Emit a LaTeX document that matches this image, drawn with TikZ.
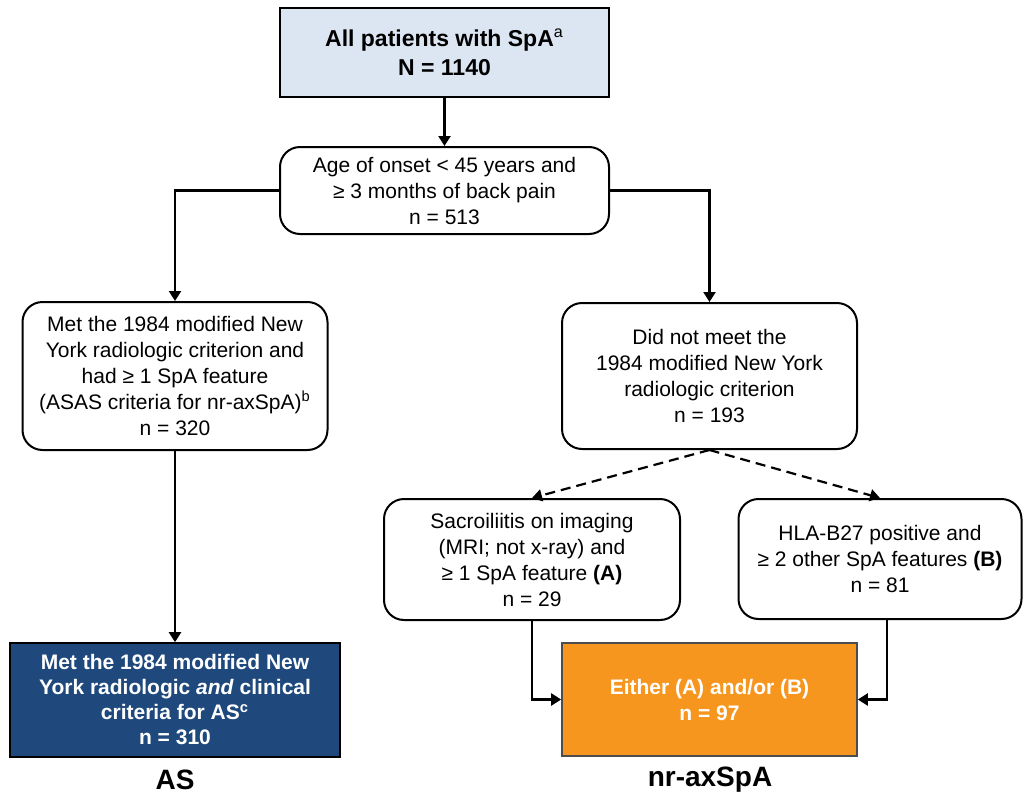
\documentclass[tikz,border=0pt]{standalone}
\usepackage{fontspec}
\setmainfont{Liberation Sans}
\usetikzlibrary{positioning,arrows.meta}

\definecolor{topblue}{HTML}{DCE6F2}
\definecolor{asblue}{HTML}{1F497D}
\definecolor{nrorange}{HTML}{F7961E}

\begin{document}
\begin{tikzpicture}[
  x=0.5pt, y=-0.5pt,
  every node/.style={font=\fontsize{10.5}{13}\selectfont},
  topbox/.style={draw, line width=1pt, fill=topblue, minimum width=164.5pt, minimum height=44.5pt, align=center, font=\fontsize{11.5}{14.5}\selectfont\bfseries},
  stepbox/.style={draw, line width=1pt, rounded corners=10pt, fill=white, align=center, inner sep=2pt},
  asbox/.style={draw, line width=0.8pt, fill=asblue, text=white, minimum width=165pt, minimum height=57pt, align=center, font=\fontsize{10.5}{12.5}\selectfont\bfseries},
  nrbox/.style={draw=black!70, line width=0.8pt, fill=nrorange, text=white, minimum width=147.5pt, minimum height=56.5pt, align=center, font=\fontsize{10.5}{13}\selectfont\bfseries},
  grouplabel/.style={font=\fontsize{14}{16}\selectfont\bfseries},
  arrow/.style={-{Triangle[length=5pt,width=6pt]}, line width=1.1pt},
  dasharrow/.style={arrow, dash pattern=on 5pt off 3pt}
]
\useasboundingbox (0,0) rectangle (1024,798);

\node[topbox] (all) at (444.5,52.5) {All patients with SpA\textsuperscript{\mdseries a}\\ N = 1140};
\node[stepbox, minimum width=164.5pt, minimum height=43.5pt] (age) [below=24pt of all]
  {Age of onset < 45 years and\\ ≥ 3 months of back pain\\ n = 513};

\node[stepbox, minimum width=152.5pt, minimum height=74pt] (met) at (175,376)
  {Met the 1984 modified New\\ York radiologic criterion and\\ had ≥ 1 SpA feature\\ (ASAS criteria for nr-axSpA)\textsuperscript{b}\\ n = 320};
\node[stepbox, minimum width=147.5pt, minimum height=73pt] (notmet) at (709.5,376)
  {Did not meet the\\ 1984 modified New York\\ radiologic criterion\\ n = 193};

\node[stepbox, minimum width=148pt, minimum height=60.5pt] (sacro) at (532,559.5)
  {Sacroiliitis on imaging\\ (MRI; not x-ray) and\\ ≥ 1 SpA feature \textbf{(A)}\\ n = 29};
\node[stepbox, minimum width=141.5pt, minimum height=60pt] (hla) at (880,559)
  {HLA-B27 positive and\\ ≥ 2 other SpA features \textbf{(B)}\\ n = 81};

\node[asbox] (as) at (175,700)
  {Met the 1984 modified New\\ York radiologic \textit{and} clinical\\ criteria for AS\textsuperscript{c}\\ n = 310};
\node[nrbox] (either) at (709.5,699.5) {Either (A) and/or (B)\\ n = 97};

\node[grouplabel] (aslabel) at (175,780) {AS};
\node[grouplabel] (nrlabel) at (710,780) {nr-axSpA};

\draw[arrow] (all) -- (age);
\draw[arrow] (age.west) -| (met.north);
\draw[arrow] (age.east) -| (notmet.north);
\draw[arrow] (met) -- (as);
\draw[dasharrow] (notmet.south) -- (sacro.north);
\draw[dasharrow] (notmet.south) -- (hla.north);
\draw[arrow] (sacro.south) |- (either.west);
\draw[arrow] ([xshift=3.5pt]hla.south) |- (either.east);
\end{tikzpicture}
\end{document}
